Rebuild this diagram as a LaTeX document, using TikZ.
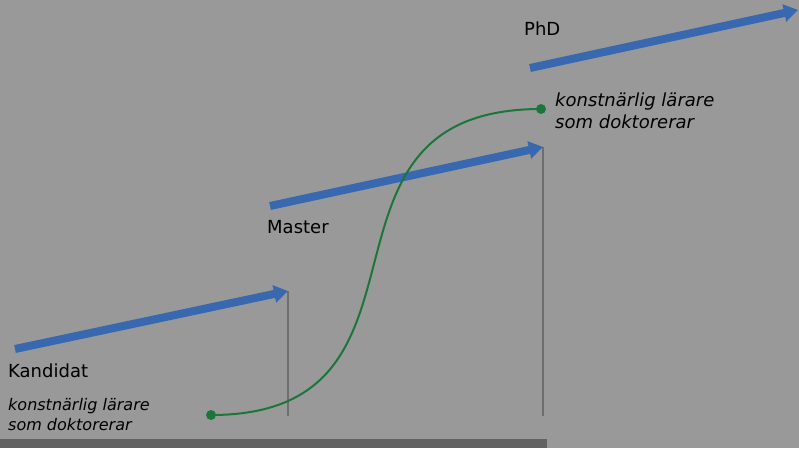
\documentclass[tikz,border=0pt]{standalone}
\usepackage{fontspec}
\setmainfont{DejaVu Sans}
\usetikzlibrary{arrows.meta}
\definecolor{bggray}{RGB}{153,153,153}
\definecolor{bargray}{RGB}{98,98,98}
\definecolor{linegray}{RGB}{110,110,110}
\definecolor{levelblue}{RGB}{56,104,176}
\definecolor{pathgreen}{RGB}{28,118,58}
\tikzset{
	levelarrow/.style={levelblue,line width=8pt,-{Triangle[length=14pt,width=17pt]}},
	levelline/.style={linegray,line width=2pt},
	levellabel/.style={anchor=base west,inner sep=0pt,font=\fontsize{18}{20}\selectfont},
	teacherlabel/.style={anchor=base west,inner sep=0pt,align=left,font=\itshape},
	teacherdot/.style={circle,fill=pathgreen,inner sep=0pt,minimum size=10pt}
}
\begin{document}
\begin{tikzpicture}[x=1pt,y=-1pt]
\fill[bggray] (0,0) rectangle (799,448);
\useasboundingbox (0,0) rectangle (799,448);
\fill[bargray] (0,439) rectangle (547,448);
\coordinate (kandStart) at (15,349);
\coordinate (kandEnd) at (288,291);
\coordinate (mastStart) at (270,206);
\coordinate (mastEnd) at (543,147);
\coordinate (phdStart) at (530,68);
\coordinate (phdEnd) at (798,10);
\draw[levelline] (kandEnd) -- (288,416);
\draw[levelline] (mastEnd) -- (543,416);
\draw[levelarrow] (kandStart) -- (kandEnd);
\draw[levelarrow] (mastStart) -- (mastEnd);
\draw[levelarrow] (phdStart) -- (phdEnd);
\node[levellabel] (kandidat) at (8,377) {Kandidat};
\node[levellabel] (master) at (267,233) {Master};
\node[levellabel] (phd) at (524,35) {PhD};
\node[teacherdot] (startDot) at (211,415) {};
\node[teacherdot] (endDot) at (541,109) {};
\draw[pathgreen,line width=2pt] (startDot.center) .. controls (459,415) and (289,109) .. (endDot.center);
\node[teacherlabel,font=\fontsize{16}{20}\selectfont\itshape] (teacherLow) at (8,430) {konstnärlig lärare\\som doktorerar};
\node[teacherlabel,font=\fontsize{18}{22}\selectfont\itshape] (teacherHigh) at (555,128) {konstnärlig lärare\\som doktorerar};
\end{tikzpicture}
\end{document}
